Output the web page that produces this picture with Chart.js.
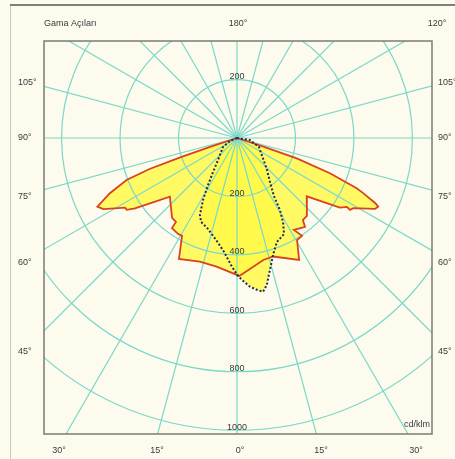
<!DOCTYPE html>
<html>
<head>
<meta charset="utf-8">
<script src="https://cdn.jsdelivr.net/npm/chart.js@4.4.1/dist/chart.umd.min.js"></script>
<style>
  html, body { margin: 0; padding: 0; background: #fdfbee; }
  canvas { display: block; }
</style>
</head>
<body>
<canvas id="polar" width="455" height="459"></canvas>
<script>
// gamma angle (deg, 0 = straight down, + = right) and intensity (cd/klm), outline order
const redGamma = [90, 71.7, 71.2, 69.2, 67.2, 66.4, 64.8, 64.1, 62.8, 58.9, 57.5, 57.9, 55.9, 50.1,
  41.9, 38.8, 37.4, 31.8, 33.6, 30.5, 27.0, 17.0, 12.2, 1.0, -9.0, -16.7, -25.6, -29.3, -31.6,
  -35.8, -36.0, -39.1, -48.8, -55.4, -56.9, -58.1, -62.0, -63.8, -66.5, -69.2, -70.5, -71.2, -71.6, -90];
const redIntensity = [0, 95, 216, 340, 444, 471, 522, 537, 531, 465, 458, 444, 425, 311,
  358, 360, 383, 370, 402, 405, 468, 424, 427, 472, 446, 442, 459, 384, 385,
  380, 355, 352, 305, 424, 450, 451, 518, 532, 474, 404, 315, 200, 97, 0];

const dotGamma = [0, -66.8, -57.3, -40.8, -35.2, -31.0, -28.7, -25.7, -23.2, -18.4, -11.6, -6.5, -2.7,
  0, 2.0, 5.0, 7.5, 9.6, 11.5, 13.1, 15.0, 17.1, 21.0, 26.1, 28.7, 30.8, 32.5, 36.9, 43.2, 52.4, 67.8, 81, 0];
const dotIntensity = [0, 26, 57, 99, 142, 199, 242, 292, 312, 324, 356, 392, 435,
  468, 486, 511, 524, 534, 513, 481, 450, 419, 381, 366, 328, 287, 235, 188, 150, 112, 81, 45, 0];

const ringValues = [200, 400, 600, 800, 1000];
const spokeStep = 15;
const sideTicks = ['105°', '90°', '75°', '60°', '45°'];
const bottomTicks = ['30°', '15°', '0°', '15°', '30°'];
const unitLabel = 'cd/klm';
const titleLabel = 'Gama Açıları';
const topTicks = ['180°', '120°'];

// polar -> cartesian for the scatter scales
const toXY = (g, v) => g.map((a, i) => {
  const r = a * Math.PI / 180;
  return { x: v[i] * Math.sin(r), y: -v[i] * Math.cos(r) };
});

const FONT = '9px "Liberation Sans", Arial, sans-serif';
const GRID = '#79d8c8';

const frame = {
  id: 'frame',
  beforeDraw(chart) {
    const { ctx, width, height } = chart;
    ctx.save();
    ctx.fillStyle = '#fdfbee';
    ctx.fillRect(0, 0, width, height);
    ctx.strokeStyle = '#c9c9c0';
    ctx.lineWidth = 1;
    ctx.beginPath(); ctx.moveTo(10.5, 5); ctx.lineTo(10.5, height); ctx.stroke();
    ctx.strokeStyle = '#555';
    ctx.lineWidth = 1.5;
    ctx.beginPath(); ctx.moveTo(10, 5); ctx.lineTo(width, 5); ctx.stroke();
    ctx.restore();
  }
};

const polarGrid = {
  id: 'polarGrid',
  beforeDatasetsDraw(chart) {
    const { ctx, chartArea: a, scales: { x, y } } = chart;
    const cx = x.getPixelForValue(0), cy = y.getPixelForValue(0);
    ctx.save();
    ctx.beginPath(); ctx.rect(a.left, a.top, a.width, a.height); ctx.clip();
    ctx.strokeStyle = GRID;
    ctx.lineWidth = 1.2;
    ringValues.forEach(v => {
      const rx = x.getPixelForValue(v) - cx, ry = cy - y.getPixelForValue(v);
      ctx.beginPath(); ctx.ellipse(cx, cy, rx, ry, 0, 0, Math.PI * 2); ctx.stroke();
    });
    for (let g = 0; g < 360; g += spokeStep) {
      const r = g * Math.PI / 180;
      ctx.beginPath();
      ctx.moveTo(cx, cy);
      ctx.lineTo(x.getPixelForValue(3000 * Math.sin(r)), y.getPixelForValue(-3000 * Math.cos(r)));
      ctx.stroke();
    }
    ctx.restore();
  },
  afterDatasetsDraw(chart) {
    const { ctx, chartArea: a, scales: { x, y } } = chart;
    const cx = x.getPixelForValue(0);
    ctx.save();
    ctx.strokeStyle = '#7b7b76';
    ctx.lineWidth = 1.5;
    ctx.strokeRect(a.left, a.top, a.width, a.height);

    ctx.font = FONT;
    ctx.fillStyle = '#3a3a3a';
    ctx.textAlign = 'center';
    ctx.textBaseline = 'middle';
    ctx.fillText(String(ringValues[0]), cx, y.getPixelForValue(ringValues[0]) - 3);
    ringValues.forEach(v => ctx.fillText(String(v), cx, y.getPixelForValue(-v) - 3));

    // frame labels
    const sideY = [83, 138, 197, 263, 352];
    const bottomX = [59, 157, 240, 321, 416];
    ctx.textAlign = 'left';
    sideTicks.forEach((t, i) => {
      ctx.fillText(t, 18, sideY[i]);
      ctx.fillText(t, 438, sideY[i]);
    });
    ctx.fillText(titleLabel, 44, 24);
    ctx.textAlign = 'center';
    bottomTicks.forEach((t, i) => ctx.fillText(t, bottomX[i], 451));
    ctx.fillText(topTicks[0], 238, 24);
    ctx.fillText(topTicks[1], 437, 24);
    ctx.textAlign = 'right';
    ctx.fillText(unitLabel, 430, 425);
    ctx.restore();
  }
};

new Chart(document.getElementById('polar'), {
  type: 'scatter',
  data: {
    datasets: [
      {
        data: toXY(dotGamma, dotIntensity),
        showLine: true,
        fill: 'shape',
        backgroundColor: 'rgba(255, 249, 70, 0.82)',
        borderColor: '#1f2a5c',
        borderWidth: 2,
        borderDash: [2, 2],
        pointRadius: 0,
        tension: 0
      },
      {
        data: toXY(redGamma, redIntensity),
        showLine: true,
        fill: 'shape',
        backgroundColor: 'rgba(255, 249, 70, 0.82)',
        borderColor: '#d8431b',
        borderWidth: 1.8,
        pointRadius: 0,
        tension: 0
      }
    ]
  },
  options: {
    responsive: false,
    devicePixelRatio: 1,
    animation: false,
    layout: { padding: { left: 44, top: 41, right: 23, bottom: 25 } },
    scales: {
      x: { type: 'linear', min: -660, max: 667, display: false },
      y: { type: 'linear', min: -1013, max: 332, display: false }
    },
    plugins: {
      legend: { display: false },
      tooltip: { enabled: false },
      filler: { drawTime: 'beforeDatasetsDraw' }
    }
  },
  plugins: [frame, polarGrid]
});
</script>
</body>
</html>
